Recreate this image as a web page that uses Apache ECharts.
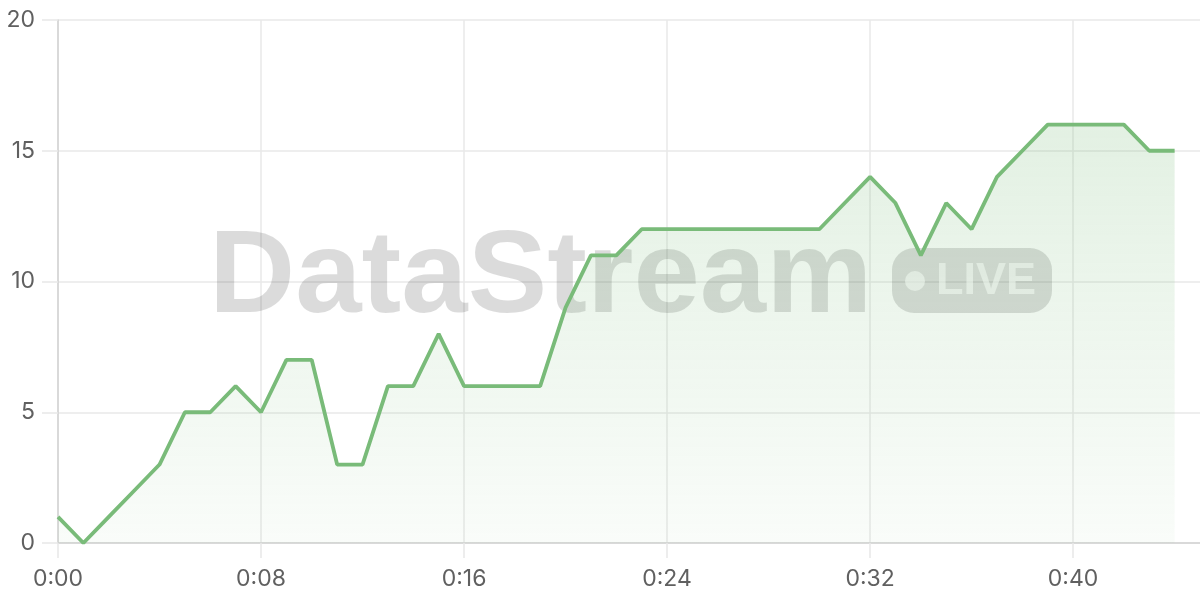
<!DOCTYPE html>
<html>
<head>
<meta charset="utf-8">
<script src="https://cdn.jsdelivr.net/npm/echarts@6/dist/echarts.min.js"></script>
<style>
html,body{margin:0;padding:0;background:#fff;}
#chart{width:1200px;height:600px;}
</style>
</head>
<body>
<div id="chart"></div>
<script>
const categories = ['0:00','0:01','0:02','0:03','0:04','0:05','0:06','0:07','0:08','0:09',
  '0:10','0:11','0:12','0:13','0:14','0:15','0:16','0:17','0:18','0:19',
  '0:20','0:21','0:22','0:23','0:24','0:25','0:26','0:27','0:28','0:29',
  '0:30','0:31','0:32','0:33','0:34','0:35','0:36','0:37','0:38','0:39',
  '0:40','0:41','0:42','0:43','0:44','0:45'];
const values = [1,0,1,2,3,5,5,6,5,7,7,3,3,6,6,8,6,6,6,6,9,11,11,12,12,12,12,12,12,12,12,13,14,13,11,13,12,14,15,16,16,16,16,15,15];
const yTicks = [0,5,10,15,20];
const watermarkText = 'DataStream';
const badgeText = 'LIVE';

const chart = echarts.init(document.getElementById('chart'));
const labelFont = {color:'#606060', fontSize:23, fontFamily:'Inter, "Noto Sans", sans-serif'};
chart.setOption({
  animation:false,
  grid:{left:58, right:0, top:20, bottom:57},
  xAxis:{
    type:'category',
    data:categories,
    boundaryGap:false,
    axisLine:{show:true, lineStyle:{color:'#d2d2d2', width:1.5}},
    axisTick:{show:true, interval:7, length:15, lineStyle:{color:'#e8e8e8', width:1.5}},
    axisLabel:Object.assign({interval:7, margin:25}, labelFont),
    splitLine:{show:true, interval:7, lineStyle:{color:'#e8e8e8', width:1.5}}
  },
  yAxis:{
    type:'value',
    min:yTicks[0], max:yTicks[yTicks.length-1], interval:5,
    axisLine:{show:true, lineStyle:{color:'#d2d2d2', width:1.5}},
    axisTick:{show:true, length:16, lineStyle:{color:'#e8e8e8', width:1.5}},
    axisLabel:Object.assign({margin:23}, labelFont),
    splitLine:{show:true, lineStyle:{color:'#e8e8e8', width:1.5}}
  },
  graphic:[
    {type:'text', z:1, silent:true, x:209, y:221, scaleX:1.02,
      style:{text:watermarkText, fontSize:117, fontWeight:'bold', fontFamily:'"Liberation Sans", Arial, sans-serif', fill:'rgba(0,0,0,0.14)'}},
    {type:'rect', z:1, silent:true, shape:{x:892, y:248, width:160, height:65, r:22},
      style:{fill:'rgba(0,0,0,0.14)'}},
    {type:'circle', z:1, silent:true, shape:{cx:915, cy:281, r:10},
      style:{fill:'rgba(255,255,255,0.65)'}},
    {type:'text', z:1, silent:true, left:936, top:259,
      style:{text:badgeText, fontSize:45, fontWeight:'bold', fontFamily:'"Liberation Sans", Arial, sans-serif', fill:'rgba(255,255,255,0.65)'}}
  ],
  series:[{
    type:'line',
    data:values,
    symbol:'none',
    z:3,
    lineStyle:{color:'#79bb79', width:3.8},
    areaStyle:{
      color:new echarts.graphic.LinearGradient(0,0,0,1,[
        {offset:0, color:'rgba(121,187,121,0.3)'},
        {offset:1, color:'rgba(121,187,121,0.06)'}
      ])
    }
  }]
});
</script>
</body>
</html>
